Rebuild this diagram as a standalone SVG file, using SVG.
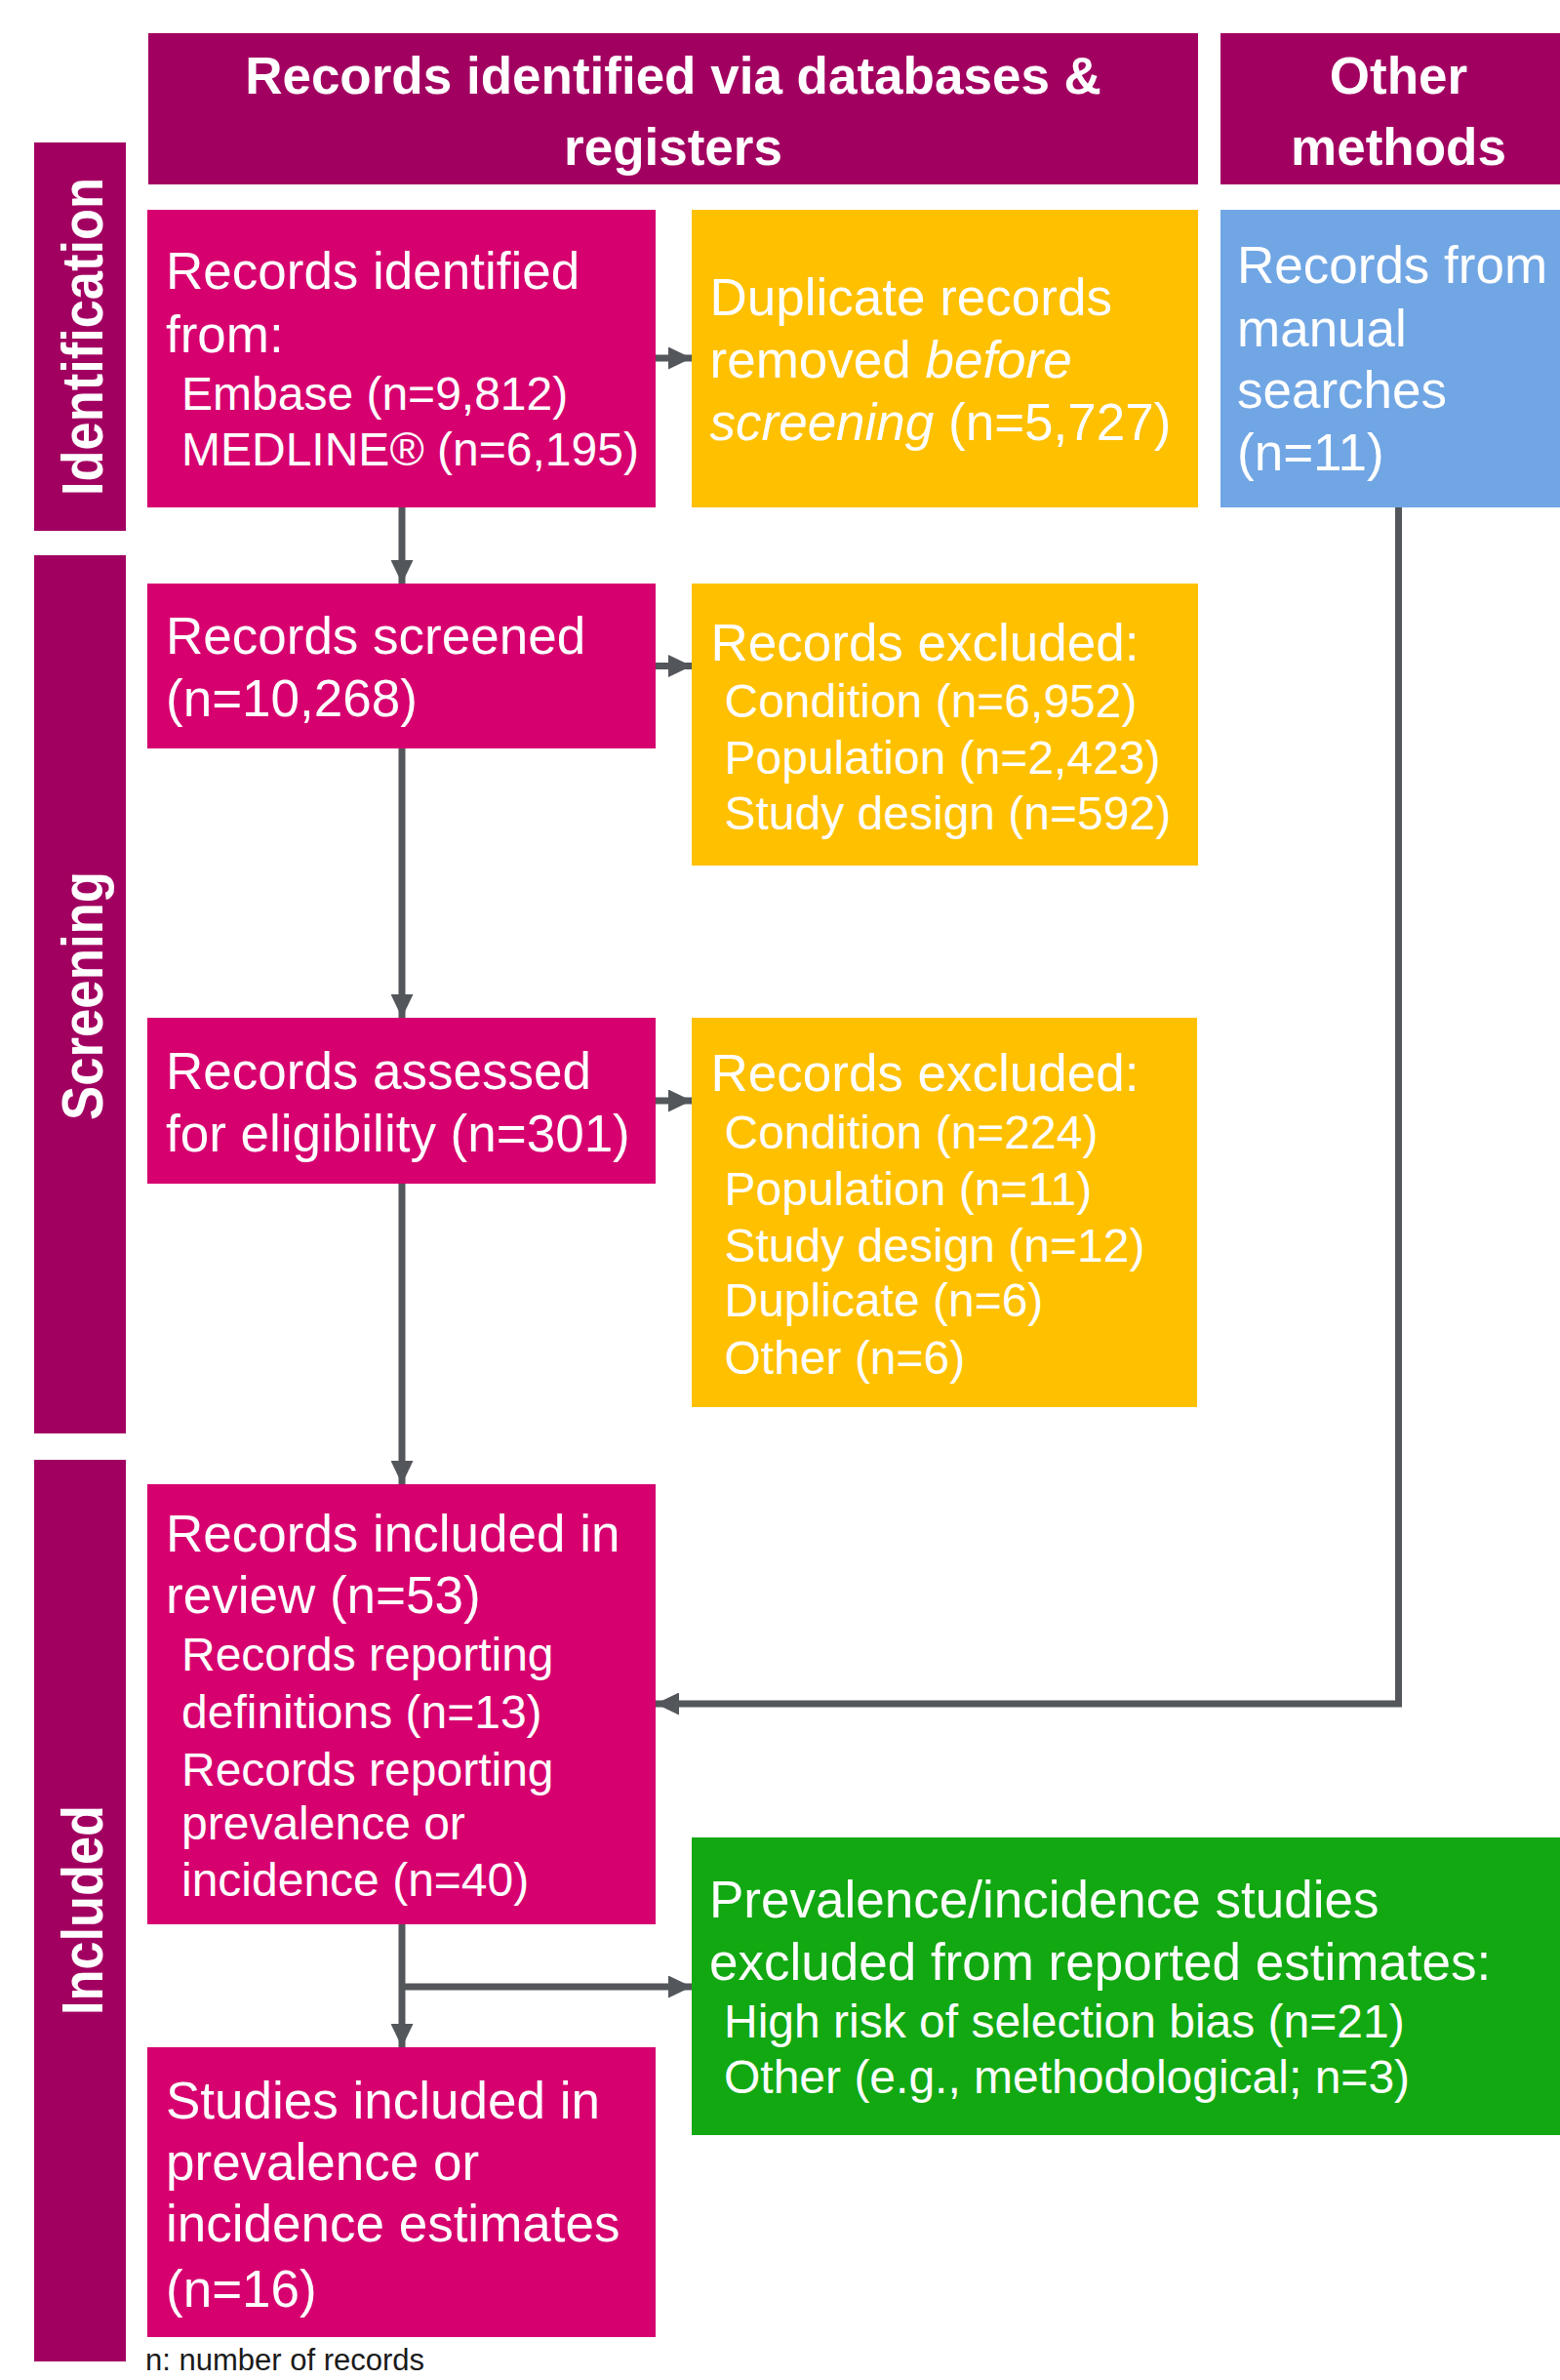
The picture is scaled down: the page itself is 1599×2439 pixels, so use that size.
<svg xmlns="http://www.w3.org/2000/svg" width="1599" height="2439" viewBox="0 0 1599 2439">
<defs>
<marker id="ah" markerUnits="userSpaceOnUse" markerWidth="24" markerHeight="23" refX="24" refY="11.5" orient="auto"><path d="M0,0 L24,11.5 L0,23 Z" fill="#53565A"/></marker>
</defs>
<style>
.hdr{fill:#A20061}
.pink{fill:#D6006F}
.yel{fill:#FFC000}
.blue{fill:#71A6E4}
.grn{fill:#12A812}
text{font-family:"Liberation Sans",Arial,sans-serif;fill:#fff}
.m{font-size:53px}
.s{font-size:48px}
.b{font-weight:bold;font-size:53px}
.rot{font-weight:bold;font-size:59px}
.it{font-style:italic}
.note{font-size:31px;fill:#1a1a1a}
.conn{stroke:#53565A;stroke-width:7;fill:none}
</style>
<rect width="1599" height="2439" fill="#fff"/>

<g id="header-databases">
<rect class="hdr" x="152" y="34" width="1076" height="155"/>
<text class="b" x="690" y="96" text-anchor="middle">Records identified via databases &amp;</text>
<text class="b" x="690" y="168.5" text-anchor="middle">registers</text>
</g>
<g id="header-other">
<rect class="hdr" x="1251" y="34" width="400" height="155"/>
<text class="b" x="1433.5" y="96" text-anchor="middle">Other</text>
<text class="b" x="1433.5" y="168.5" text-anchor="middle">methods</text>
</g>

<g id="phase-identification">
<rect class="hdr" x="35" y="146" width="94" height="398"/>
<text class="rot" transform="translate(104.5,345) rotate(-90)" text-anchor="middle" textLength="326" lengthAdjust="spacingAndGlyphs">Identification</text>
</g>
<g id="phase-screening">
<rect class="hdr" x="35" y="569" width="94" height="900"/>
<text class="rot" transform="translate(104.5,1020.5) rotate(-90)" text-anchor="middle" textLength="255" lengthAdjust="spacingAndGlyphs">Screening</text>
</g>
<g id="phase-included">
<rect class="hdr" x="35" y="1496" width="94" height="924"/>
<text class="rot" transform="translate(104.5,1957.5) rotate(-90)" text-anchor="middle" textLength="215" lengthAdjust="spacingAndGlyphs">Included</text>
</g>

<g id="connectors">
<path class="conn" d="M672,367 H709" marker-end="url(#ah)"/>
<path class="conn" d="M412,520 V598" marker-end="url(#ah)"/>
<path class="conn" d="M672,682.5 H709" marker-end="url(#ah)"/>
<path class="conn" d="M412,767 V1043" marker-end="url(#ah)"/>
<path class="conn" d="M672,1128 H709" marker-end="url(#ah)"/>
<path class="conn" d="M412,1213 V1521" marker-end="url(#ah)"/>
<path class="conn" d="M1433.5,520 V1746 H672" marker-end="url(#ah)"/>
<path class="conn" d="M412,1972 V2098" marker-end="url(#ah)"/>
<path class="conn" d="M412,2036 H709" marker-end="url(#ah)"/>
</g>

<g id="node-identified">
<rect class="pink" x="151" y="215" width="521" height="305"/>
<text class="m" x="170" y="296">Records identified</text>
<text class="m" x="170" y="361">from:</text>
<text class="s" x="186" y="420">Embase (n=9,812)</text>
<text class="s" x="186" y="477">MEDLINE® (n=6,195)</text>
</g>

<g id="node-duplicates">
<rect class="yel" x="709" y="215" width="519" height="305"/>
<text class="m" x="727.5" y="322.5">Duplicate records</text>
<text class="m" x="727.5" y="387">removed <tspan class="it">before</tspan></text>
<text class="m" x="727.5" y="451"><tspan class="it">screening</tspan> (n=5,727)</text>
</g>

<g id="node-manual">
<rect class="blue" x="1251" y="215" width="400" height="305"/>
<text class="m" x="1268" y="290">Records from</text>
<text class="m" x="1268" y="355">manual</text>
<text class="m" x="1268" y="418">searches</text>
<text class="m" x="1268" y="482">(n=11)</text>
</g>

<g id="node-screened">
<rect class="pink" x="151" y="598" width="521" height="169"/>
<text class="m" x="170" y="670">Records screened</text>
<text class="m" x="170" y="734">(n=10,268)</text>
</g>

<g id="node-excluded1">
<rect class="yel" x="709" y="598" width="519" height="289"/>
<text class="m" x="728.5" y="676.5">Records excluded:</text>
<text class="s" x="742.5" y="735">Condition (n=6,952)</text>
<text class="s" x="742.5" y="792.5">Population (n=2,423)</text>
<text class="s" x="742.5" y="850">Study design (n=592)</text>
</g>

<g id="node-assessed">
<rect class="pink" x="151" y="1043" width="521" height="170"/>
<text class="m" x="170" y="1116">Records assessed</text>
<text class="m" x="170" y="1180">for eligibility (n=301)</text>
</g>

<g id="node-excluded2">
<rect class="yel" x="709" y="1043" width="518" height="399"/>
<text class="m" x="728.5" y="1118">Records excluded:</text>
<text class="s" x="742.5" y="1177">Condition (n=224)</text>
<text class="s" x="742.5" y="1234.5">Population (n=11)</text>
<text class="s" x="742.5" y="1293">Study design (n=12)</text>
<text class="s" x="742.5" y="1349">Duplicate (n=6)</text>
<text class="s" x="742.5" y="1408">Other (n=6)</text>
</g>

<g id="node-included">
<rect class="pink" x="151" y="1521" width="521" height="451"/>
<text class="m" x="170" y="1590">Records included in</text>
<text class="m" x="170" y="1653">review (n=53)</text>
<text class="s" x="186" y="1712">Records reporting</text>
<text class="s" x="186" y="1770.5">definitions (n=13)</text>
<text class="s" x="186" y="1830">Records reporting</text>
<text class="s" x="186" y="1885">prevalence or</text>
<text class="s" x="186" y="1943">incidence (n=40)</text>
</g>

<g id="node-excluded-estimates">
<rect class="grn" x="709" y="1883" width="900" height="305"/>
<text class="m" x="727" y="1965">Prevalence/incidence studies</text>
<text class="m" x="727" y="2029">excluded from reported estimates:</text>
<text class="s" x="742" y="2088">High risk of selection bias (n=21)</text>
<text class="s" x="742" y="2145">Other (e.g., methodological; n=3)</text>
</g>

<g id="node-studies">
<rect class="pink" x="151" y="2098" width="521" height="297"/>
<text class="m" x="170" y="2170.5">Studies included in</text>
<text class="m" x="170" y="2234">prevalence or</text>
<text class="m" x="170" y="2297">incidence estimates</text>
<text class="m" x="170" y="2363.5">(n=16)</text>
</g>

<text class="note" x="149" y="2429">n: number of records</text>
</svg>
